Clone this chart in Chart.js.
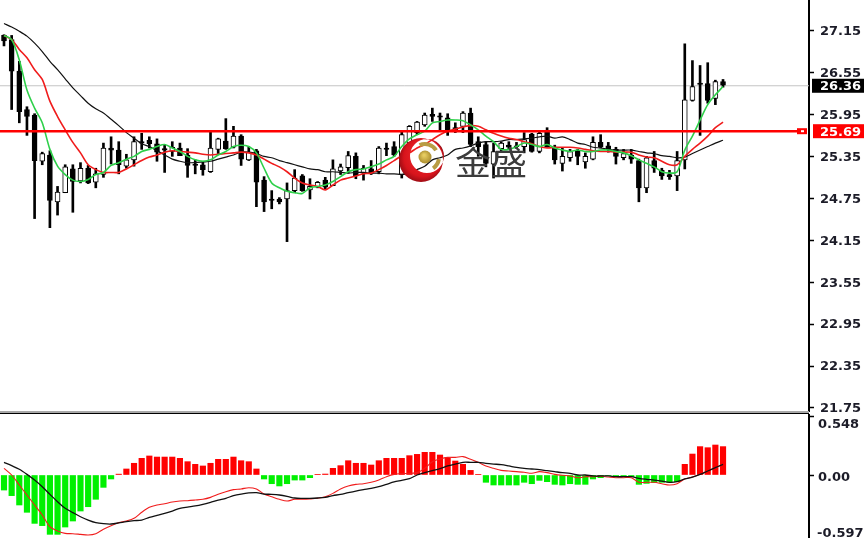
<!DOCTYPE html>
<html>
<head>
<meta charset="utf-8">
<style>
html, body { margin: 0; padding: 0; background: #fff; overflow: hidden; }
canvas { position: absolute; left: 0; }
#priceChart { top: 0; }
#macdChart { top: 414px; }
</style>
<script src="https://cdn.jsdelivr.net/npm/chart.js@4"></script>
</head>
<body>
<canvas id="priceChart" width="864" height="414"></canvas>
<canvas id="macdChart" width="864" height="124"></canvas>
<script>
// Candles, oldest first
const opens = [
  27.08,27.02,26.57,26.02,25.94,25.28,25.37,24.70,24.83,25.17,
  25.00,25.18,24.98,25.09,25.47,25.44,25.21,25.30,25.56,25.58,
  25.53,25.46,25.42,25.47,25.37,25.24,25.23,25.13,25.45,25.57,
  25.48,25.64,25.30,25.43,25.01,24.74,24.74,24.74,24.86,25.07,
  24.87,24.91,25.01,24.93,25.14,25.19,25.35,25.11,25.17,25.13,
  25.47,25.49,25.09,25.54,25.69,25.80,25.95,25.93,25.90,25.76,
  25.78,25.97,25.56,25.52,25.24,25.46,25.51,25.50,25.49,25.67,
  25.42,25.72,25.48,25.25,25.33,25.43,25.27,25.31,25.55,25.50,
  25.45,25.33,25.37,25.29,24.90,25.29,25.15,25.09,25.07,25.30,
  26.15,26.40,26.39,26.18,26.42];
const closes = [
  27.00,26.57,25.99,25.92,25.29,25.39,24.72,24.84,25.20,24.99,
  25.18,24.97,25.10,25.47,25.44,25.23,25.30,25.56,25.54,25.53,
  25.41,25.44,25.48,25.36,25.22,25.22,25.16,25.47,25.60,25.46,
  25.64,25.31,25.41,24.98,24.70,24.72,24.70,24.86,25.04,24.86,
  24.92,24.98,24.91,25.17,25.20,25.36,25.07,25.18,25.11,25.47,
  25.45,25.37,25.66,25.78,25.84,25.94,25.92,25.91,25.71,25.73,
  25.97,25.52,25.49,25.25,25.42,25.54,25.48,25.49,25.59,25.42,
  25.68,25.49,25.30,25.35,25.42,25.35,25.35,25.55,25.48,25.45,
  25.35,25.39,25.31,24.90,25.33,25.18,25.07,25.06,25.29,26.16,
  26.35,26.38,26.15,26.42,26.37];
const highs = [
  27.09,27.08,26.71,26.06,25.96,25.41,25.43,24.92,25.23,25.23,
  25.26,25.22,25.18,25.54,25.63,25.56,25.38,25.63,25.68,25.63,
  25.60,25.52,25.56,25.54,25.46,25.30,25.28,25.70,25.61,25.89,
  25.78,25.66,25.49,25.45,25.06,24.86,24.76,24.97,25.16,25.09,
  25.03,24.99,25.05,25.30,25.24,25.42,25.40,25.22,25.29,25.49,
  25.54,25.56,25.71,25.79,25.85,25.97,26.04,25.97,25.96,25.83,
  25.99,26.04,25.63,25.56,25.54,25.56,25.56,25.55,25.69,25.68,
  25.70,25.76,25.51,25.47,25.45,25.45,25.40,25.63,25.66,25.55,
  25.48,25.45,25.45,25.31,25.35,25.42,25.18,25.15,25.42,26.96,
  26.72,26.65,26.69,26.44,26.45];
const lows = [
  26.93,26.02,25.83,25.65,24.46,25.23,24.33,24.51,24.83,24.55,
  24.97,24.96,24.90,25.05,25.24,25.10,25.18,25.21,25.45,25.47,
  25.28,25.12,25.35,25.36,25.05,25.10,25.08,25.12,25.39,25.45,
  25.47,25.22,25.29,24.63,24.56,24.60,24.67,24.13,24.83,24.85,
  24.74,24.90,24.88,24.93,25.09,25.11,25.03,25.01,25.09,25.10,
  25.36,25.35,25.04,25.52,25.66,25.78,25.85,25.73,25.65,25.69,
  25.69,25.49,25.35,25.20,25.04,25.42,25.45,25.47,25.40,25.41,
  25.40,25.48,25.24,25.14,25.28,25.23,25.18,25.30,25.47,25.41,
  25.24,25.30,25.25,24.70,24.83,25.12,25.02,25.02,24.86,25.17,
  26.14,25.65,26.11,26.09,26.34];

// Moving averages
const maFast = [
  27.08,27.02,26.73,26.30,26.04,25.83,25.45,25.21,25.09,25.01,
  24.99,25.02,25.09,25.12,25.22,25.26,25.31,25.35,25.42,25.45,
  25.49,25.52,25.47,25.42,25.35,25.30,25.28,25.30,25.37,25.42,
  25.49,25.51,25.49,25.40,25.18,24.97,24.90,24.85,24.83,24.82,
  24.90,24.92,24.94,24.99,25.06,25.13,25.16,25.17,25.20,25.24,
  25.30,25.35,25.49,25.60,25.66,25.71,25.83,25.85,25.87,25.87,
  25.86,25.80,25.73,25.64,25.56,25.45,25.45,25.49,25.54,25.52,
  25.49,25.52,25.47,25.44,25.42,25.44,25.42,25.42,25.44,25.44,
  25.42,25.40,25.36,25.30,25.25,25.20,25.13,25.11,25.13,25.44,
  25.64,25.87,26.09,26.23,26.35];
const maMid = [
  27.08,27.02,26.88,26.76,26.59,26.45,26.14,25.92,25.73,25.55,
  25.40,25.23,25.16,25.12,25.12,25.12,25.17,25.23,25.29,25.34,
  25.37,25.41,25.43,25.42,25.41,25.40,25.38,25.37,25.38,25.39,
  25.40,25.41,25.40,25.37,25.31,25.25,25.20,25.13,25.04,24.97,
  24.94,24.92,24.87,24.94,25.01,25.04,25.07,25.10,25.11,25.16,
  25.22,25.29,25.36,25.40,25.47,25.52,25.59,25.66,25.71,25.74,
  25.77,25.79,25.78,25.73,25.68,25.64,25.61,25.59,25.56,25.53,
  25.49,25.47,25.48,25.48,25.48,25.47,25.45,25.43,25.42,25.42,
  25.41,25.41,25.41,25.37,25.34,25.33,25.28,25.23,25.23,25.35,
  25.45,25.54,25.64,25.76,25.84];
const maSlow = [
  27.25,27.20,27.14,27.07,26.97,26.85,26.71,26.59,26.46,26.33,
  26.22,26.11,26.03,25.97,25.88,25.79,25.69,25.61,25.53,25.49,
  25.43,25.37,25.31,25.28,25.26,25.26,25.27,25.28,25.31,25.34,
  25.37,25.41,25.41,25.39,25.35,25.33,25.29,25.26,25.23,25.20,
  25.17,25.16,25.13,25.13,25.12,25.11,25.12,25.12,25.11,25.11,
  25.10,25.10,25.09,25.11,25.16,25.21,25.30,25.33,25.37,25.45,
  25.47,25.50,25.54,25.56,25.56,25.57,25.59,25.59,25.60,25.61,
  25.63,25.64,25.61,25.63,25.59,25.54,25.52,25.48,25.47,25.45,
  25.44,25.44,25.44,25.42,25.40,25.39,25.36,25.35,25.33,25.34,
  25.39,25.44,25.49,25.54,25.58];

// MACD pane
const macdHist = [
  -0.140,-0.192,-0.279,-0.347,-0.450,-0.471,-0.552,-0.552,-0.484,-0.428,
  -0.335,-0.295,-0.226,-0.115,-0.037,0.008,0.056,0.109,0.155,0.177,
  0.167,0.167,0.167,0.155,0.124,0.099,0.084,0.109,0.146,0.146,
  0.167,0.133,0.124,0.056,-0.037,-0.081,-0.102,-0.081,-0.047,-0.047,
  -0.025,0.006,0.009,0.062,0.087,0.133,0.109,0.109,0.093,0.133,
  0.155,0.155,0.155,0.180,0.192,0.211,0.211,0.186,0.161,0.130,
  0.099,0.043,0.006,-0.068,-0.093,-0.093,-0.093,-0.093,-0.068,-0.081,
  -0.050,-0.062,-0.087,-0.093,-0.081,-0.087,-0.087,-0.037,-0.025,-0.006,
  -0.016,-0.016,-0.016,-0.087,-0.078,-0.071,-0.068,-0.068,-0.062,0.099,
  0.195,0.264,0.254,0.279,0.264];
const macdMain = [
  0.118,0.087,0.053,0.006,-0.047,-0.109,-0.180,-0.248,-0.310,-0.350,
  -0.388,-0.419,-0.443,-0.453,-0.456,-0.446,-0.434,-0.425,-0.419,-0.394,
  -0.375,-0.357,-0.335,-0.310,-0.298,-0.288,-0.273,-0.254,-0.233,-0.217,
  -0.192,-0.177,-0.167,-0.164,-0.177,-0.180,-0.186,-0.198,-0.214,-0.217,
  -0.217,-0.214,-0.208,-0.192,-0.180,-0.164,-0.149,-0.136,-0.124,-0.109,
  -0.087,-0.065,-0.050,-0.034,0,0.022,0.040,0.059,0.084,0.102,
  0.118,0.118,0.118,0.109,0.102,0.096,0.084,0.071,0.062,0.056,
  0.050,0.040,0.031,0.022,0.016,0,0,-0.009,-0.009,-0.009,
  -0.016,-0.016,-0.016,-0.031,-0.040,-0.047,-0.056,-0.068,-0.062,-0.037,
  -0.019,0.006,0.037,0.068,0.099];
const macdSignal = [
  0.062,0,-0.093,-0.186,-0.279,-0.372,-0.481,-0.521,-0.543,-0.546,
  -0.552,-0.558,-0.546,-0.505,-0.471,-0.443,-0.428,-0.403,-0.347,-0.301,
  -0.279,-0.267,-0.251,-0.242,-0.239,-0.233,-0.226,-0.208,-0.180,-0.155,
  -0.136,-0.130,-0.118,-0.130,-0.177,-0.202,-0.226,-0.242,-0.226,-0.226,
  -0.223,-0.217,-0.202,-0.171,-0.130,-0.102,-0.087,-0.081,-0.068,-0.047,
  -0.016,0.006,0.012,0.016,0.022,0.062,0.124,0.149,0.164,0.164,
  0.171,0.146,0.118,0.084,0.062,0.043,0.037,0.031,0.025,0.016,
  0.031,0.022,0.006,-0.003,-0.009,-0.025,-0.016,-0.016,-0.012,-0.019,
  -0.025,-0.025,-0.025,-0.068,-0.068,-0.068,-0.081,-0.093,-0.081,-0.037,
  -0.019,0.006,0.037,0.068,0.099];

const priceTicks = [27.15, 26.55, 25.95, 25.35, 24.75, 24.15, 23.55, 22.95, 22.35, 21.75];
const macdTicks = [0.548, 0, -0.597];
const bidLevel = 26.36;
const bidLabel = '26.36';
const alertLevel = 25.71; // where the line sits in the picture, its box reads 25.69
const alertLabel = '25.69';
const logoText = '金盛';

const barIndex = opens.map((_, i) => i);
const xMin = -0.523, xMax = 105.24;
const levelEnd = 103.7;
const axisFont = { family: '"DejaVu Sans"', size: 13, weight: 'bold' };
const axisColor = '#1c1c28';

// fixed axis width, and no room reserved for half a label above and below the plot
function fitAxis(scale) {
  scale.width = 55;
  scale.paddingTop = 0;
  scale.paddingBottom = 0;
}

// Price boxes on the axis, the little alert handle, the logo and the pane divider
const pricePlugin = {
  id: 'priceExtras',
  afterDraw(chart) {
    const ctx = chart.ctx, y = chart.scales.y;
    ctx.save();
    ctx.font = 'bold 13px "DejaVu Sans"';
    ctx.textBaseline = 'middle';

    const bidY = y.getPixelForValue(bidLevel);
    ctx.fillStyle = '#000';
    ctx.fillRect(812, bidY - 7, 52, 14);
    ctx.fillStyle = '#fff';
    ctx.fillText(bidLabel, 820, bidY + 1);

    const alertY = y.getPixelForValue(alertLevel);
    ctx.fillStyle = '#ff0000';
    ctx.fillRect(813, alertY - 7, 51, 14);
    ctx.fillRect(797, alertY - 3, 10, 6);
    ctx.fillStyle = '#fff';
    ctx.fillRect(801, alertY - 1, 3, 2);
    ctx.fillText(alertLabel, 820, alertY + 1);

    // logo: crescent, gold swooshes and ball
    const grad = ctx.createRadialGradient(428, 150, 8, 421, 160, 24);
    grad.addColorStop(0, '#f02a2e');
    grad.addColorStop(0.7, '#d8141c');
    grad.addColorStop(1, '#8c0a12');
    ctx.fillStyle = grad;
    ctx.beginPath();
    ctx.arc(421, 160, 22, 0, Math.PI * 2);
    ctx.arc(427, 156, 17, 0, Math.PI * 2, true);
    ctx.fill('evenodd');
    ctx.strokeStyle = '#b89c44';
    ctx.lineWidth = 4;
    ctx.beginPath();
    ctx.arc(425, 157, 13, -2.0, -0.55);
    ctx.stroke();
    ctx.beginPath();
    ctx.arc(425, 157, 14, 0.15, 0.95);
    ctx.stroke();
    const ball = ctx.createRadialGradient(424, 155, 1, 425, 157, 7);
    ball.addColorStop(0, '#e6cc60');
    ball.addColorStop(1, '#a88a2c');
    ctx.fillStyle = ball;
    ctx.beginPath();
    ctx.arc(425, 157, 6.5, 0, Math.PI * 2);
    ctx.fill();

    // watermark name, a little wider than the font draws it
    ctx.save();
    ctx.translate(455, 175);
    ctx.scale(1.09, 1);
    ctx.fillStyle = '#3c3c3c';
    ctx.textBaseline = 'alphabetic';
    ctx.font = '33px "Noto Sans CJK SC"';
    ctx.fillText(logoText, 0, 0);
    ctx.restore();

    // divider between the panes
    ctx.fillStyle = '#a8a8a8';
    ctx.fillRect(0, 411, 809, 2);
    ctx.fillStyle = '#000';
    ctx.fillRect(0, 413, 809, 1);
    ctx.restore();
  }
};

// MT4 pushes the outer labels of this pane inside, so they are placed by hand
const macdPlugin = {
  id: 'macdLabels',
  afterDraw(chart) {
    const ctx = chart.ctx, y = chart.scales.y;
    const shift = [9, 3, -6];
    const fmt = [v => v.toFixed(3), v => v.toFixed(2), v => v.toFixed(3)];
    ctx.save();
    ctx.font = 'bold 13px "DejaVu Sans"';
    ctx.fillStyle = axisColor;
    ctx.textBaseline = 'middle';
    macdTicks.forEach((v, k) => {
      ctx.fillText(fmt[k](v), v < 0 ? 817 : 818, y.getPixelForValue(v) + shift[k]);
    });
    ctx.restore();
  }
};

new Chart(document.getElementById('priceChart'), {
  type: 'bar',
  data: {
    labels: barIndex,
    datasets: [
      { type: 'line', data: [{ x: xMin, y: bidLevel }, { x: xMax, y: bidLevel }], borderColor: '#c4c4c4', borderWidth: 1, pointRadius: 0, order: 10 },
      { data: lows.map((v, i) => [v, highs[i]]), backgroundColor: '#000', barThickness: 2, grouped: false, order: 9 },
      {
        data: opens.map((v, i) => [v, closes[i]]),
        backgroundColor: opens.map((v, i) => closes[i] > v ? '#fff' : '#000'),
        borderColor: '#000', borderWidth: 1, borderSkipped: false,
        barThickness: 5, grouped: false, order: 8
      },
      { type: 'line', data: maSlow, borderColor: '#111', borderWidth: 1.2, pointRadius: 0, tension: 0.3, order: 5 },
      { type: 'line', data: maMid, borderColor: '#f01c1c', borderWidth: 1.6, pointRadius: 0, tension: 0.3, order: 4 },
      { type: 'line', data: maFast, borderColor: '#2ed04a', borderWidth: 1.6, pointRadius: 0, tension: 0.3, order: 3 },
      { type: 'line', data: [{ x: xMin, y: alertLevel }, { x: levelEnd, y: alertLevel }], borderColor: '#ff0000', borderWidth: 2.5, pointRadius: 0, order: 1 }
    ]
  },
  options: {
    responsive: false,
    animation: false,
    events: [],
    layout: { autoPadding: false, padding: { bottom: 3 } },
    plugins: { legend: { display: false }, tooltip: { enabled: false } },
    scales: {
      x: { type: 'linear', display: false, offset: false, min: xMin, max: xMax },
      y: {
        position: 'right',
        min: 21.707,
        max: 27.587,
        afterFit: fitAxis,
        afterBuildTicks: s => { s.ticks = priceTicks.map(v => ({ value: v })); },
        grid: { drawOnChartArea: false, color: '#000', tickLength: 5, tickWidth: 1.5 },
        border: { color: '#000', width: 2 },
        ticks: { font: axisFont, color: axisColor, padding: 6, labelOffset: 1, autoSkip: false, callback: v => v.toFixed(2) }
      }
    }
  },
  plugins: [pricePlugin]
});

new Chart(document.getElementById('macdChart'), {
  type: 'bar',
  data: {
    labels: barIndex,
    datasets: [
      {
        data: macdHist,
        backgroundColor: macdHist.map(v => v >= 0 ? '#ff0000' : '#00f000'),
        barThickness: 5.5, grouped: false, order: 5
      },
      { type: 'line', data: macdMain, borderColor: '#111', borderWidth: 1.3, pointRadius: 0, tension: 0.3, order: 2 },
      { type: 'line', data: macdSignal, borderColor: '#f01c1c', borderWidth: 1.1, pointRadius: 0, tension: 0.3, order: 3 }
    ]
  },
  options: {
    responsive: false,
    animation: false,
    events: [],
    layout: { autoPadding: false },
    plugins: { legend: { display: false }, tooltip: { enabled: false } },
    scales: {
      x: { type: 'linear', display: false, offset: false, min: xMin, max: xMax },
      y: {
        position: 'right',
        min: -0.586,
        max: 0.5674,
        afterFit: fitAxis,
        afterBuildTicks: s => { s.ticks = macdTicks.map(v => ({ value: v })); },
        grid: { drawOnChartArea: false, color: '#000', tickLength: 5, tickWidth: 1.5 },
        border: { color: '#000', width: 2 },
        ticks: { display: false }
      }
    }
  },
  plugins: [macdPlugin]
});
</script>
</body>
</html>
